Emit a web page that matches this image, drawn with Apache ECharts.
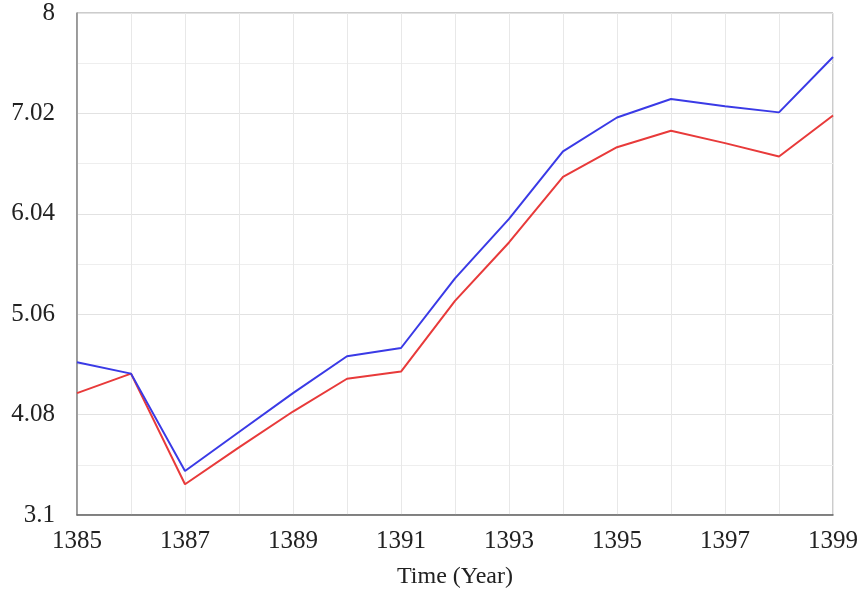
<!DOCTYPE html>
<html>
<head>
<meta charset="utf-8">
<script src="https://cdn.jsdelivr.net/npm/echarts@6/dist/echarts.min.js"></script>
<style>
  html, body { margin: 0; padding: 0; background: #fff; }
  #chart { width: 861px; height: 594px; }
</style>
</head>
<body>
<div id="chart"></div>
<script>
// years on the x axis
const years = [1385, 1386, 1387, 1388, 1389, 1390, 1391, 1392, 1393, 1394, 1395, 1396, 1397, 1398, 1399]
// upper (blue) series
const blueValues = [4.59, 4.48, 3.53, 3.91, 4.29, 4.65, 4.73, 5.41, 5.99, 6.65, 6.98, 7.16, 7.09, 7.03, 7.57]
// lower (red) series
const redValues = [4.29, 4.48, 3.40, 3.76, 4.11, 4.43, 4.50, 5.19, 5.76, 6.40, 6.69, 6.85, 6.73, 6.60, 7.00]
// y axis tick labels
const yTicks = [3.1, 4.08, 5.06, 6.04, 7.02, 8]

const chart = echarts.init(document.getElementById('chart'))

const labelFont = {
  fontFamily: 'Liberation Serif',
  fontSize: 25,
  color: '#222'
}

const option = {
  animation: false,
  backgroundColor: '#fff',
  grid: {
    left: 77,
    right: 27,
    top: 13,
    bottom: 78,
    show: true,
    borderColor: '#999',
    borderWidth: 1
  },
  xAxis: {
    type: 'value',
    min: years[0],
    max: years[years.length - 1],
    interval: 1,
    name: 'Time (Year)',
    nameLocation: 'middle',
    nameGap: 50,
    nameTextStyle: { fontFamily: 'Liberation Serif', fontSize: 24, color: '#222' },
    axisLine: { lineStyle: { color: '#666', width: 1.5 } },
    axisTick: { show: false },
    axisLabel: {
      ...labelFont,
      margin: 14,
      formatter: v => ((v - years[0]) % 2 === 0 ? String(v) : '')
    },
    splitLine: { show: true, lineStyle: { color: '#e8e8e8' } }
  },
  yAxis: {
    type: 'value',
    min: yTicks[0],
    max: yTicks[yTicks.length - 1],
    interval: 0.98,
    axisLine: { show: true, lineStyle: { color: '#888', width: 1.5 } },
    axisTick: { show: false },
    axisLabel: {
      ...labelFont,
      margin: 22,
      formatter: v => {
        const r = Math.round(v * 100) / 100
        return yTicks.includes(r) ? String(r) : ''
      }
    },
    splitLine: { show: true, lineStyle: { color: '#e2e2e2' } },
    minorTick: { show: false, splitNumber: 2 },
    minorSplitLine: { show: true, lineStyle: { color: '#eeeeee' } }
  },
  series: [
    {
      name: 'blue',
      type: 'line',
      data: years.map((y, i) => [y, blueValues[i]]),
      showSymbol: false,
      lineStyle: { color: '#3a3ae6', width: 2 },
      itemStyle: { color: '#3a3ae6' },
      z: 3
    },
    {
      name: 'red',
      type: 'line',
      data: years.map((y, i) => [y, redValues[i]]),
      showSymbol: false,
      lineStyle: { color: '#e83a3a', width: 2 },
      itemStyle: { color: '#e83a3a' },
      z: 2
    }
  ]
}

chart.setOption(option)
</script>
</body>
</html>
